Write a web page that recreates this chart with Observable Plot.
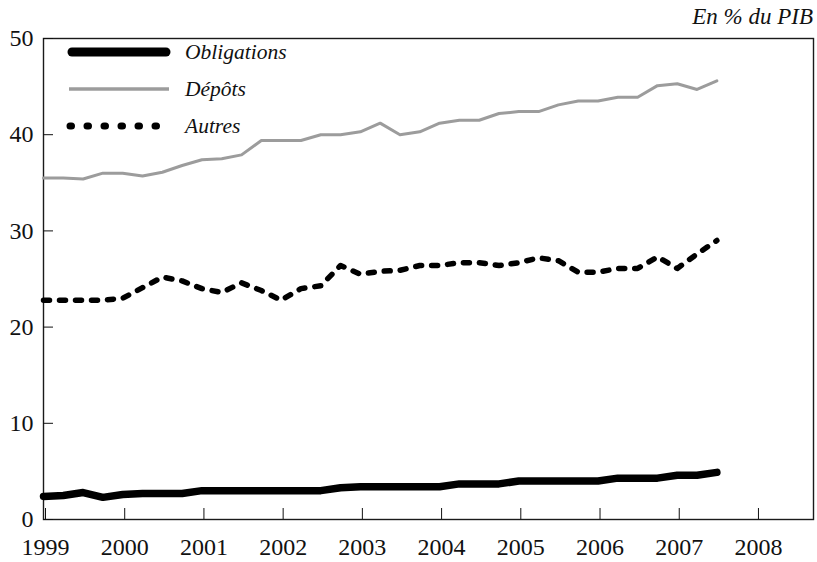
<!DOCTYPE html>
<html><head><meta charset="utf-8">
<script src="https://cdn.jsdelivr.net/npm/d3@7"></script>
<script src="https://cdn.jsdelivr.net/npm/@observablehq/plot@0.6"></script>
<style>
body{margin:0;background:#fff;}
#wrap{position:relative;width:817px;height:562px;font-family:"Liberation Serif","Times New Roman",serif;color:#111;}
#unit{position:absolute;top:4px;right:4px;font-style:italic;font-size:23px;z-index:2;}
#chart{position:absolute;left:0;top:0;}
.leg{position:absolute;left:66px;height:24px;display:flex;align-items:center;font-style:italic;font-size:21.5px;}
.leg svg{margin-right:13px;}
</style></head><body>
<div id="wrap"><div id="unit">En % du PIB</div><div id="chart"></div></div>
<script>
const periods = [1999,1999.25,1999.5,1999.75,2000,2000.25,2000.5,2000.75,2001,2001.25,2001.5,2001.75,
  2002,2002.25,2002.5,2002.75,2003,2003.25,2003.5,2003.75,2004,2004.25,2004.5,2004.75,
  2005,2005.25,2005.5,2005.75,2006,2006.25,2006.5,2006.75,2007,2007.25,2007.5];
const obligations = [2.4,2.5,2.8,2.3,2.6,2.7,2.7,2.7,3.0,3.0,3.0,3.0,3.0,3.0,3.0,3.3,3.4,3.4,3.4,3.4,3.4,
  3.7,3.7,3.7,4.0,4.0,4.0,4.0,4.0,4.3,4.3,4.3,4.6,4.6,4.9];
const depots = [35.5,35.5,35.4,36.0,36.0,35.7,36.1,36.8,37.4,37.5,37.9,39.4,39.4,39.4,40.0,40.0,40.3,41.2,
  40.0,40.3,41.2,41.5,41.5,42.2,42.4,42.4,43.1,43.5,43.5,43.9,43.9,45.1,45.3,44.7,45.6];
const autres = [22.8,22.8,22.8,22.8,23.0,24.1,25.2,24.8,24.0,23.6,24.6,23.8,22.8,24.0,24.3,26.4,25.5,25.8,
  25.9,26.4,26.4,26.7,26.7,26.4,26.7,27.2,26.9,25.7,25.7,26.1,26.1,27.3,26.1,27.6,29.0];
const xTicks = [1999,2000,2001,2002,2003,2004,2005,2006,2007,2008];
const yTicks = [0,10,20,30,40,50];
const seriesNames = ["Obligations","Dépôts","Autres"];

const rows = periods.map((p,i)=>({p, o: obligations[i], d: depots[i], a: autres[i]}));

const styles = {
  "Obligations": {stroke:"#000", strokeWidth:7.5, dash:null},
  "Dépôts": {stroke:"#9c9c9c", strokeWidth:3, dash:null},
  "Autres": {stroke:"#000", strokeWidth:5.5, dash:"6,10"}
};

const chart = Plot.plot({
  width: 817, height: 562,
  marginTop: 38, marginRight: 4, marginBottom: 43, marginLeft: 43,
  style: {fontFamily: "'Liberation Serif', serif", fontSize: "24px", color: "#111", background: "transparent", overflow: "visible"},
  x: {domain: [1999, 2008.72]},
  y: {domain: [0, 50]},
  marks: [
    Plot.frame({stroke: "#1a1a1a", strokeWidth: 1.4}),
    Plot.axisX({ticks: xTicks, tickSize: -11, tickPadding: 29, tickFormat: d => String(d), label: null, dx: 2}),
    Plot.axisY({ticks: yTicks, tickSize: -10, tickPadding: 20, label: null}),
    Plot.line(rows, {x: "p", y: "d", stroke: styles["Dépôts"].stroke, strokeWidth: styles["Dépôts"].strokeWidth}),
    Plot.line(rows, {x: "p", y: "a", stroke: styles["Autres"].stroke, strokeWidth: styles["Autres"].strokeWidth, strokeDasharray: styles["Autres"].dash}),
    Plot.line(rows, {x: "p", y: "o", stroke: styles["Obligations"].stroke, strokeWidth: styles["Obligations"].strokeWidth, strokeLinejoin: "round"})
  ]
});
document.getElementById("chart").appendChild(chart);

// legend
const wrap = d3.select("#wrap");
seriesNames.forEach((name, i) => {
  const s = styles[name];
  const row = wrap.append("div").attr("class", "leg").style("top", (40 + i * 37) + "px");
  const svg = row.append("svg").attr("width", 106).attr("height", 24);
  const ln = svg.append("line").attr("y1", 12).attr("y2", 12).attr("stroke", s.stroke);
  if (name === "Obligations") {
    ln.attr("x1", 6).attr("x2", 100).attr("stroke-width", 9).attr("stroke-linecap", "round");
  } else if (name === "Dépôts") {
    ln.attr("x1", 3).attr("x2", 103).attr("stroke-width", 3.5);
  } else {
    ln.attr("x1", 4).attr("x2", 104).attr("stroke-width", 7).attr("stroke-linecap", "round")
      .attr("stroke-dasharray", "1.5,15.5");
  }
  row.append("span").text(name);
});
</script>
</body></html>
